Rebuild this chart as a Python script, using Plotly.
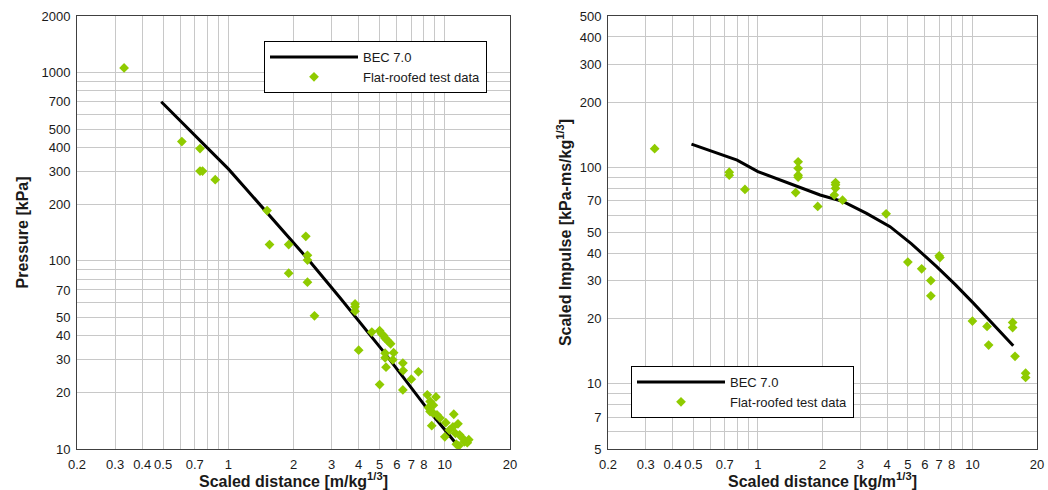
import plotly.graph_objects as go

# ---------------- Data: left panel (pressure) ----------------
bec_p_x = [0.49, 0.6, 0.8, 1.0, 1.22, 1.5, 2.0, 2.35, 3.28, 4.0, 5.2, 6.42, 8.25, 10.2, 11.4]
bec_p_y = [700, 554, 398, 308, 238, 182, 125, 101, 63.6, 48.2, 33, 24.1, 16.5, 12.3, 10.5]

test_p_x = [0.33, 0.61, 0.74, 0.74, 0.76, 0.87, 1.51, 1.55, 1.90, 1.90, 2.28, 2.32, 2.32, 2.32,
            2.50, 3.85, 3.85, 3.85, 4.0, 4.6, 5.0, 5.1, 5.2, 5.3, 5.4, 5.5, 5.62, 5.0, 5.3, 5.3,
            5.35, 5.8, 5.75, 6.4, 6.42, 6.4, 7.0, 7.55, 8.3, 9.1, 8.55, 8.85, 8.4, 8.55, 8.85,
            9.2, 9.5, 8.7, 10.1, 11.0, 10.0, 10.5, 10.9, 11.5, 11.2, 11.7, 12.0, 11.6, 12.3,
            12.7, 12.9, 11.3]
test_p_y = [1060, 430, 395, 300, 300, 270, 185, 122, 122, 86, 135, 107, 101, 77,
            51, 59, 57, 54, 33.5, 41.8, 42.5, 41, 40.2, 38.8, 38, 37.2, 36.2, 22, 32.3, 30.5,
            27.2, 32.5, 29.8, 28.6, 26.1, 20.6, 23.5, 25.7, 19.4, 18.9, 17.9, 17.1, 16.6, 15.8, 15.5,
            15.2, 14.6, 13.3, 13.8, 15.3, 11.6, 12.6, 13.1, 13.6, 12.1, 11.9, 11.5, 10.4, 10.9,
            10.8, 11.2, 10.6]

# ---------------- Data: right panel (impulse) ----------------
bec_i_x = [0.49, 0.8, 1.0, 1.52, 1.95, 2.5, 3.21, 4.13, 5.2, 6.81, 8.3, 10.1, 13.0, 15.5]
bec_i_y = [128, 108, 95.5, 81.5, 74.5, 69.4, 61.3, 53.2, 44.3, 34.8, 28.8, 23.6, 18.1, 15.0]

test_i_x = [0.33, 0.735, 0.735, 0.87, 1.54, 1.54, 1.54, 1.54, 1.5, 1.9, 2.3, 2.3, 2.3, 2.27,
            2.48, 3.96, 5.0, 5.8, 6.4, 6.4, 7.0, 7.05, 10.0, 11.7, 11.9, 15.4, 15.4, 15.8,
            17.7, 17.7]
test_i_y = [122, 95, 92, 79, 106, 99, 92, 90, 76.5, 66, 85, 83, 80, 74.5,
            70.5, 61, 36.5, 34, 30, 25.5, 39, 38.3, 19.5, 18.4, 15.1, 19.2, 18.2, 13.4,
            11.2, 10.7]

# ---------------- Tick / grid values ----------------
x_tickvals = [0.2, 0.3, 0.4, 0.5, 0.7, 1, 2, 3, 4, 5, 6, 7, 8, 10, 20]
x_ticktext = ["0.2", "0.3", "0.4", "0.5", "0.7", "1", "2", "3", "4", "5", "6", "7", "8", "10", "20"]
x_minor = [0.6, 0.8, 0.9, 9]

yp_tickvals = [10, 20, 30, 40, 50, 70, 100, 200, 300, 400, 500, 700, 1000, 2000]
yp_minor = [60, 80, 90, 600, 800, 900]

yi_tickvals = [5, 7, 10, 20, 30, 40, 50, 70, 100, 200, 300, 400, 500]
yi_minor = [6, 8, 9, 60, 80, 90]

GREEN = "#8FCB00"
GRID = "#C8C8C8"
FRAME = "#404040"
FONT = "Liberation Sans, Arial, sans-serif"
TXT = "#1a1a1a"

fig = go.Figure()

fig.add_trace(go.Scatter(x=bec_p_x, y=bec_p_y, mode="lines", name="BEC 7.0",
                         line=dict(color="black", width=3), xaxis="x", yaxis="y",
                         legend="legend"))
fig.add_trace(go.Scatter(x=test_p_x, y=test_p_y, mode="markers", name="Flat-roofed test data",
                         marker=dict(symbol="diamond", color=GREEN, size=7.5),
                         xaxis="x", yaxis="y", legend="legend"))
fig.add_trace(go.Scatter(x=bec_i_x, y=bec_i_y, mode="lines", name="BEC 7.0",
                         line=dict(color="black", width=3), xaxis="x2", yaxis="y2",
                         legend="legend2"))
fig.add_trace(go.Scatter(x=test_i_x, y=test_i_y, mode="markers", name="Flat-roofed test data",
                         marker=dict(symbol="diamond", color=GREEN, size=7.5),
                         xaxis="x2", yaxis="y2", legend="legend2"))


def xaxis_cfg(domain, title, anchor):
    return dict(
        type="log", domain=domain, range=[-0.69897, 1.30103], anchor=anchor,
        automargin=False,
        tickmode="array", tickvals=x_tickvals, ticktext=x_ticktext,
        showgrid=True, gridcolor=GRID, gridwidth=1,
        minor=dict(tickmode="array", tickvals=x_minor, showgrid=True, gridcolor=GRID, gridwidth=1,
                   ticks=""),
        showline=True, linecolor=FRAME, linewidth=1, mirror=True, ticks="",
        ticklabelstandoff=3,
        zeroline=False, tickfont=dict(size=13, color=TXT),
        title=dict(text=title, font=dict(size=16, color=TXT, family=FONT, weight="bold"),
                   standoff=4),
    )


def yaxis_cfg(domain, rng, tv, minor, title, anchor, standoff):
    return dict(
        type="log", domain=domain, range=rng, anchor=anchor,
        automargin=False,
        tickmode="array", tickvals=tv, ticktext=[str(v) for v in tv],
        showgrid=True, gridcolor=GRID, gridwidth=1,
        minor=dict(tickmode="array", tickvals=minor, showgrid=True, gridcolor=GRID, gridwidth=1,
                   ticks=""),
        showline=True, linecolor=FRAME, linewidth=1, mirror=True, ticks="",
        ticklabelstandoff=3,
        zeroline=False, tickfont=dict(size=13, color=TXT),
        title=dict(text=title, font=dict(size=16, color=TXT, family=FONT, weight="bold"),
                   standoff=standoff),
    )


ydom = [1 - 449 / 490, 1 - 16 / 490]

fig.update_layout(
    width=1048, height=490,
    margin=dict(l=0, r=0, t=0, b=0),
    paper_bgcolor="white", plot_bgcolor="white",
    font=dict(family=FONT, size=13, color=TXT),
    xaxis=xaxis_cfg([77 / 1048, 510 / 1048], "Scaled distance [m/kg<sup>1/3</sup>]", "y"),
    yaxis=yaxis_cfg(ydom, [1, 3.30103], yp_tickvals, yp_minor, "Pressure [kPa]", "x", 8),
    xaxis2=xaxis_cfg([608 / 1048, 1037 / 1048], "Scaled distance [kg/m<sup>1/3</sup>]", "y2"),
    yaxis2=yaxis_cfg(ydom, [0.69897, 2.69897], yi_tickvals, yi_minor,
                     "Scaled Impulse [kPa-ms/kg<sup>1/3</sup>]", "x2", 4),
    legend=dict(x=264 / 1048, y=1 - 41 / 490, xanchor="left", yanchor="top",
                bgcolor="white", bordercolor="black", borderwidth=1,
                font=dict(size=13, color=TXT), itemwidth=88, tracegroupgap=0),
    legend2=dict(x=631 / 1048, y=1 - 366 / 490, xanchor="left", yanchor="top",
                 bgcolor="white", bordercolor="black", borderwidth=1,
                 font=dict(size=13, color=TXT), itemwidth=88, tracegroupgap=0),
    showlegend=True,
)

fig.write_html("out.html")
